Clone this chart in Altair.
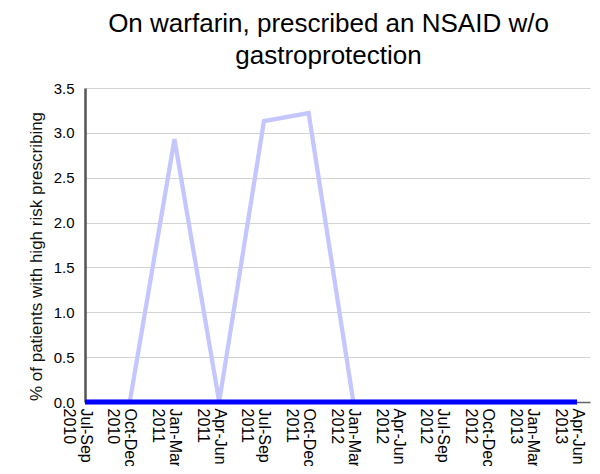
import altair as alt
import pandas as pd

quarters = ["Jul-Sep", "Oct-Dec", "Jan-Mar", "Apr-Jun", "Jul-Sep", "Oct-Dec",
            "Jan-Mar", "Apr-Jun", "Jul-Sep", "Oct-Dec", "Jan-Mar", "Apr-Jun"]
years = ["2010", "2010", "2011", "2011", "2011", "2011",
         "2012", "2012", "2012", "2012", "2013", "2013"]
practice = [0.0, 0.0, 2.93, 0.0, 3.13, 3.22, 0.0, 0.0, 0.0, 0.0, 0.0, 0.0]
baseline = [0.0] * 12

rows = []
for i in range(12):
    rows.append({"idx": i, "series": "practice", "value": practice[i]})
    rows.append({"idx": i, "series": "baseline", "value": baseline[i]})
df = pd.DataFrame(rows)

label_list = "[" + ",".join(f"['{q}','{y}']" for q, y in zip(quarters, years)) + "]"

FONT = "Liberation Sans"

base = alt.Chart(df).encode(
    x=alt.X("idx:Q",
            scale=alt.Scale(domain=[0, 11.29], nice=False, zero=False),
            axis=alt.Axis(values=list(range(12)), labelExpr=f"{label_list}[datum.value]",
                          labelAngle=90, labelAlign="left", labelBaseline="middle",
                          labelFont=FONT, labelFontSize=16, labelColor="#000000",
                          labelPadding=6, ticks=False, grid=False, title=None,
                          domainColor="#666666", domainWidth=1.5, labelLineHeight=17,
                          labelOverlap=False, labelBound=False, labelFlush=False)),
    y=alt.Y("value:Q",
            scale=alt.Scale(domain=[0, 3.5], nice=False),
            axis=alt.Axis(values=[0, 0.5, 1, 1.5, 2, 2.5, 3, 3.5], format=".1f",
                          labelFont=FONT, labelFontSize=15, labelColor="#000000",
                          ticks=False, labelPadding=11,
                          title="% of patients with high risk prescribing",
                          titleFont=FONT, titleFontSize=17, titleFontWeight="normal",
                          titleColor="#111111", titleAngle=270,
                          titleX=-49, titleY=168, titleAlign="center",
                          titleBaseline="middle",
                          domainColor="#555555", domainWidth=2.5,
                          gridColor="#d3d3d3", gridWidth=1.2,
                          labelOverlap=False, labelFlush=False)),
)

line_practice = base.transform_filter(alt.datum.series == "practice").mark_line(
    color="#c6c6ff", strokeWidth=4.3)
line_base = base.transform_filter(alt.datum.series == "baseline").mark_line(
    color="#0000ff", strokeWidth=5)

chart = alt.layer(line_practice, line_base).properties(
    width=505, height=314,
    autosize=alt.AutoSizeParams(type="none"),
    padding={"left": 77, "top": 80, "right": 2, "bottom": 64},
    title=alt.TitleParams(
        text=["On warfarin, prescribed an NSAID w/o", "gastroprotection"],
        font=FONT, fontSize=26, fontWeight="normal", color="#000000",
        anchor="middle", frame="group", lineHeight=32, offset=20, dy=29, dx=-9,
        baseline="alphabetic"),
).configure_view(stroke=None)

chart.save("out.html", embed_options={"renderer": "svg", "actions": False})
